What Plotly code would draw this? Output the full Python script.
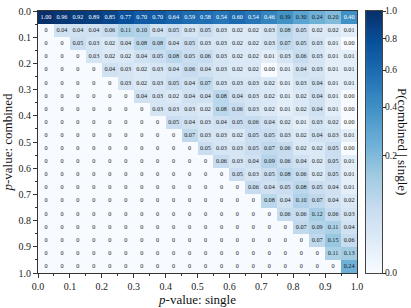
import numpy as np
import plotly.graph_objects as go

# P(combined | single); rows = p-value combined bins (0 at top), columns = p-value single bins
row_values = [
    [1.00, 0.96, 0.92, 0.89, 0.85, 0.77, 0.70, 0.70, 0.64, 0.59, 0.58, 0.54, 0.60, 0.54, 0.46, 0.39, 0.30, 0.24, 0.20, 0.40],
    [0, 0.04, 0.04, 0.04, 0.06, 0.11, 0.10, 0.04, 0.05, 0.03, 0.05, 0.03, 0.02, 0.02, 0.03, 0.08, 0.05, 0.02, 0.02, 0.01],
    [0, 0, 0.05, 0.03, 0.02, 0.04, 0.08, 0.08, 0.04, 0.05, 0.03, 0.03, 0.02, 0.02, 0.03, 0.07, 0.05, 0.03, 0.01, 0.00],
    [0, 0, 0, 0.03, 0.02, 0.02, 0.04, 0.05, 0.08, 0.05, 0.06, 0.03, 0.02, 0.02, 0.01, 0.03, 0.06, 0.03, 0.01, 0.01],
    [0, 0, 0, 0, 0.04, 0.03, 0.02, 0.03, 0.04, 0.06, 0.04, 0.03, 0.02, 0.02, 0.00, 0.01, 0.04, 0.03, 0.01, 0.01],
    [0, 0, 0, 0, 0, 0.03, 0.02, 0.03, 0.05, 0.04, 0.07, 0.03, 0.03, 0.03, 0.02, 0.01, 0.03, 0.04, 0.01, 0.01],
    [0, 0, 0, 0, 0, 0, 0.04, 0.03, 0.02, 0.04, 0.04, 0.08, 0.04, 0.03, 0.02, 0.01, 0.02, 0.04, 0.01, 0.00],
    [0, 0, 0, 0, 0, 0, 0, 0.03, 0.03, 0.03, 0.02, 0.08, 0.06, 0.03, 0.02, 0.01, 0.02, 0.04, 0.01, 0.00],
    [0, 0, 0, 0, 0, 0, 0, 0, 0.05, 0.04, 0.03, 0.04, 0.05, 0.06, 0.04, 0.02, 0.01, 0.03, 0.02, 0.00],
    [0, 0, 0, 0, 0, 0, 0, 0, 0, 0.07, 0.03, 0.03, 0.02, 0.05, 0.05, 0.03, 0.02, 0.04, 0.03, 0.01],
    [0, 0, 0, 0, 0, 0, 0, 0, 0, 0, 0.05, 0.03, 0.03, 0.05, 0.07, 0.06, 0.02, 0.02, 0.05, 0.00],
    [0, 0, 0, 0, 0, 0, 0, 0, 0, 0, 0, 0.06, 0.03, 0.04, 0.09, 0.06, 0.04, 0.02, 0.05, 0.01],
    [0, 0, 0, 0, 0, 0, 0, 0, 0, 0, 0, 0, 0.05, 0.03, 0.05, 0.08, 0.06, 0.02, 0.05, 0.01],
    [0, 0, 0, 0, 0, 0, 0, 0, 0, 0, 0, 0, 0, 0.06, 0.04, 0.05, 0.08, 0.05, 0.04, 0.01],
    [0, 0, 0, 0, 0, 0, 0, 0, 0, 0, 0, 0, 0, 0, 0.08, 0.04, 0.10, 0.07, 0.04, 0.02],
    [0, 0, 0, 0, 0, 0, 0, 0, 0, 0, 0, 0, 0, 0, 0, 0.06, 0.06, 0.12, 0.06, 0.03],
    [0, 0, 0, 0, 0, 0, 0, 0, 0, 0, 0, 0, 0, 0, 0, 0, 0.07, 0.09, 0.11, 0.04],
    [0, 0, 0, 0, 0, 0, 0, 0, 0, 0, 0, 0, 0, 0, 0, 0, 0, 0.07, 0.15, 0.06],
    [0, 0, 0, 0, 0, 0, 0, 0, 0, 0, 0, 0, 0, 0, 0, 0, 0, 0, 0.11, 0.13],
    [0, 0, 0, 0, 0, 0, 0, 0, 0, 0, 0, 0, 0, 0, 0, 0, 0, 0, 0, 0.24],
]
bin_centers = [round(0.025 + 0.05 * i, 3) for i in range(20)]
tick_vals = [0.0, 0.1, 0.2, 0.3, 0.4, 0.5, 0.6, 0.7, 0.8, 0.9, 1.0]
tick_text = ["0.0", "0.1", "0.2", "0.3", "0.4", "0.5", "0.6", "0.7", "0.8", "0.9", "1.0"]
cbar_vals = [0.0, 0.2, 0.4, 0.6, 0.8, 1.0]
cbar_text = ["0.0", "0.2", "0.4", "0.6", "0.8", "1.0"]

Z = np.array(row_values, dtype=float)
Zc = np.sqrt(Z)  # power-norm (gamma 0.5) color mapping
cbar_pos = [float(np.sqrt(v)) for v in cbar_vals]

blues = [
    [0.0, "#f7fbff"], [0.125, "#deebf7"], [0.25, "#c6dbef"], [0.375, "#9ecae1"],
    [0.5, "#6baed6"], [0.625, "#4292c6"], [0.75, "#2171b5"], [0.875, "#08519c"], [1.0, "#08306b"],
]

FONT = "Liberation Serif"
W, H = 411, 308
L, R, T, B = 37, 29, 5, 30
plot_w = W - L - R  # 345
main_w = 320
cb_left, cb_w = 329, 16

fig = go.Figure()
fig.add_trace(go.Heatmap(
    z=Zc, x=bin_centers, y=bin_centers, zmin=0, zmax=1,
    colorscale=blues, hoverinfo="skip", showscale=False,
    xaxis="x", yaxis="y",
))

# colour bar drawn as a gradient on its own small axis (sqrt-scaled positions)
grad = np.linspace(0, 1, 257)
fig.add_trace(go.Heatmap(
    z=grad.reshape(-1, 1), x=[0.5], y=grad, zmin=0, zmax=1,
    colorscale=blues, hoverinfo="skip", showscale=False,
    xaxis="x2", yaxis="y2",
))

xs, ys, txt, cols = [], [], [], []
for i in range(20):
    for j in range(20):
        v = Z[i, j]
        xs.append(bin_centers[j])
        ys.append(bin_centers[i])
        txt.append("0" if j < i else f"{v:.2f}")
        cols.append("white" if v >= 0.4 else "#1a1a1a")
fig.add_trace(go.Scatter(
    x=xs, y=ys, mode="text", text=txt, hoverinfo="skip", showlegend=False,
    textfont=dict(family=FONT, size=6.2, color=cols), xaxis="x", yaxis="y",
))

axis_common = dict(
    tickvals=tick_vals, ticktext=tick_text, ticks="outside", ticklen=4, tickcolor="#333",
    showline=True, linecolor="#333", linewidth=0.8, mirror=True, showgrid=False, zeroline=False,
    tickfont=dict(family=FONT, size=10, color="#222"),
    minor=dict(tickvals=[round(0.05 + 0.1 * k, 2) for k in range(10)], ticks="outside", ticklen=2, tickcolor="#333"),
)

annotations = [dict(
    text="P(combined | single)", xref="paper", yref="paper", x=(403 - L) / plot_w, y=0.5,
    xanchor="center", yanchor="middle", textangle=90, showarrow=False,
    font=dict(family=FONT, size=13, color="#111"),
)]
for pos, lab in zip(cbar_pos, cbar_text):
    annotations.append(dict(
        text=lab, xref="x2 domain", yref="y2", x=1.12, y=pos,
        xanchor="left", yanchor="middle", showarrow=False, borderpad=0,
        font=dict(family=FONT, size=9.5, color="#222"),
    ))

fig.update_layout(
    width=W, height=H, margin=dict(l=L, r=R, t=T, b=B),
    paper_bgcolor="white", plot_bgcolor="rgba(0,0,0,0)", showlegend=False,
    xaxis=dict(domain=[0, main_w / plot_w], range=[0, 1],
               title=dict(text="<i>p</i>-value: single", standoff=2,
                          font=dict(family=FONT, size=13, color="#111")), **axis_common),
    yaxis=dict(range=[1, 0], anchor="x",
               title=dict(text="<i>p</i>-value: combined", standoff=4,
                          font=dict(family=FONT, size=13, color="#111")), **axis_common),
    xaxis2=dict(domain=[cb_left / plot_w, (cb_left + cb_w) / plot_w], range=[0, 1], anchor="y2",
                showticklabels=False, ticks="", showline=True, linecolor="#444", linewidth=0.8,
                mirror=True, showgrid=False, zeroline=False),
    yaxis2=dict(domain=[0, 1], range=[0, 1], anchor="x2", side="right",
                tickvals=cbar_pos, showticklabels=False,
                ticks="outside", ticklen=3, tickcolor="#333",
                showline=True, linecolor="#444", linewidth=0.8, mirror=True,
                showgrid=False, zeroline=False),
    annotations=annotations,
)
fig.write_html("out.html", config={"displayModeBar": False},
               post_script="document.body.style.margin='0';document.body.style.overflow='hidden';")
